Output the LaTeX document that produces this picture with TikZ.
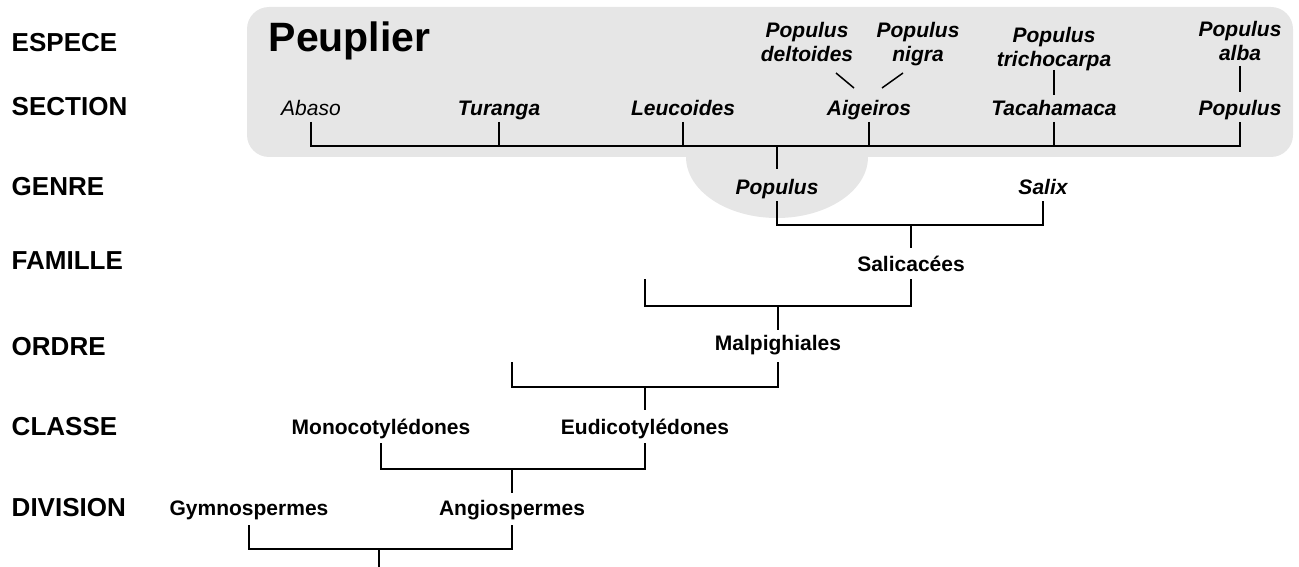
\documentclass[tikz,border=0pt]{standalone}
\usepackage{fontspec}
\setmainfont{Liberation Sans}
\definecolor{boxgray}{RGB}{230,230,230}
\begin{document}
\begin{tikzpicture}[x=1pt,y=-1pt,line width=1.5pt,
  lvl/.style={font=\fontsize{26}{30}\selectfont\bfseries,anchor=base west,inner sep=0pt},
  tx/.style={font=\fontsize{21}{24}\selectfont\bfseries,anchor=base,inner sep=0pt},
  itx/.style={font=\fontsize{21}{24}\selectfont\bfseries\itshape,anchor=base,inner sep=0pt},
  rit/.style={font=\fontsize{21}{24}\selectfont\itshape,anchor=base,inner sep=0pt},
  sp/.style={font=\fontsize{21}{24}\selectfont\bfseries\itshape,align=center,anchor=north,inner sep=0pt},
  big/.style={font=\fontsize{41}{45}\selectfont\bfseries,anchor=base west,inner sep=0pt},
  link/.style={draw=black,line width=1.5pt}]
\useasboundingbox (0,0) rectangle (1299,567);
% grey backgrounds
\fill[boxgray,rounded corners=22pt] (247,7) rectangle (1293,157);
\fill[boxgray] (777,157) ellipse [x radius=91pt, y radius=61pt];
% level labels
\node[lvl] (lesp) at (11,52) {ESPECE};
\node[lvl] (lsec) at (11,116) {SECTION};
\node[lvl] (lgen) at (11,196) {GENRE};
\node[lvl] (lfam) at (11,269) {FAMILLE};
\node[lvl] (lord) at (11,355) {ORDRE};
\node[lvl] (lcla) at (11,435) {CLASSE};
\node[lvl] (ldiv) at (11,516) {DIVISION};
% title
\node[big] (peup) at (268,52) {Peuplier};
% species
\node[sp] (delt) at (807,22) {Populus\\deltoides};
\node[sp] (nigr) at (918,22) {Populus\\nigra};
\node[sp] (tric) at (1054,27) {Populus\\trichocarpa};
\node[sp] (alba) at (1240,21) {Populus\\alba};
% sections
\node[rit] (abaso) at (311,115.5) {Abaso};
\node[itx] (tur) at (499,115.5) {Turanga};
\node[itx] (leu) at (683,115.5) {Leucoides};
\node[itx] (aig) at (869,115.5) {Aigeiros};
\node[itx] (tac) at (1054,115.5) {Tacahamaca};
\node[itx] (psec) at (1240,115.5) {Populus};
% genre
\node[itx] (popg) at (777,194.5) {Populus};
\node[itx] (salix) at (1043,194.5) {Salix};
% famille
\node[tx] (salic) at (911,271) {Salicacées};
% ordre
\node[tx] (malp) at (778,350) {Malpighiales};
% classe
\node[tx] (mono) at (381,434.5) {Monocotylédones};
\node[tx] (eudi) at (645,434.5) {Eudicotylédones};
% division
\node[tx] (gymno) at (249,515.5) {Gymnospermes};
\node[tx] (angio) at (512,515.5) {Angiospermes};
% helper coordinates
\coordinate (d1) at (836,73); \coordinate (d2) at (854,88);
\coordinate (n1) at (903,73); \coordinate (n2) at (882,88);
\coordinate (spT) at (0,70); \coordinate (spB) at (0,95);
\coordinate (alT) at (0,66); \coordinate (alB) at (0,92);
\coordinate (secT) at (0,122); \coordinate (secL) at (0,146); \coordinate (secS) at (0,169);
\coordinate (genT) at (0,201); \coordinate (genL) at (0,225); \coordinate (genS) at (0,248);
\coordinate (famT) at (0,279); \coordinate (famL) at (0,306); \coordinate (famS) at (0,330);
\coordinate (famX) at (645,0);
\coordinate (ordT) at (0,362); \coordinate (ordL) at (0,387); \coordinate (ordS) at (0,410);
\coordinate (ordX) at (512,0);
\coordinate (claT) at (0,443); \coordinate (claL) at (0,469); \coordinate (claS) at (0,493);
\coordinate (divT) at (0,525); \coordinate (divL) at (0,549); \coordinate (divS) at (0,567);
\coordinate (divX) at (379,0);
% species links
\draw[link] (d1) -- (d2);
\draw[link] (n1) -- (n2);
\draw[link] (tac |- spT) -- (tac |- spB);
\draw[link] (psec |- alT) -- (psec |- alB);
% section bracket
\draw[link] (abaso |- secT) -- (abaso |- secL) -- (psec |- secL) -- (psec |- secT);
\draw[link] (tur |- secT) -- (tur |- secL);
\draw[link] (leu |- secT) -- (leu |- secL);
\draw[link] (aig |- secT) -- (aig |- secL);
\draw[link] (tac |- secT) -- (tac |- secL);
\draw[link] (popg |- secL) -- (popg |- secS);
% genre bracket
\draw[link] (popg |- genT) -- (popg |- genL) -- (salix |- genL) -- (salix |- genT);
\draw[link] (salic |- genL) -- (salic |- genS);
% famille bracket
\draw[link] (famX |- famT) -- (famX |- famL) -- (salic |- famL) -- (salic |- famT);
\draw[link] (malp |- famL) -- (malp |- famS);
% ordre bracket
\draw[link] (ordX |- ordT) -- (ordX |- ordL) -- (malp |- ordL) -- (malp |- ordT);
\draw[link] (eudi |- ordL) -- (eudi |- ordS);
% classe bracket
\draw[link] (mono |- claT) -- (mono |- claL) -- (eudi |- claL) -- (eudi |- claT);
\draw[link] (angio |- claL) -- (angio |- claS);
% division bracket
\draw[link] (gymno |- divT) -- (gymno |- divL) -- (angio |- divL) -- (angio |- divT);
\draw[link] (divX |- divL) -- (divX |- divS);
\end{tikzpicture}
\end{document}
